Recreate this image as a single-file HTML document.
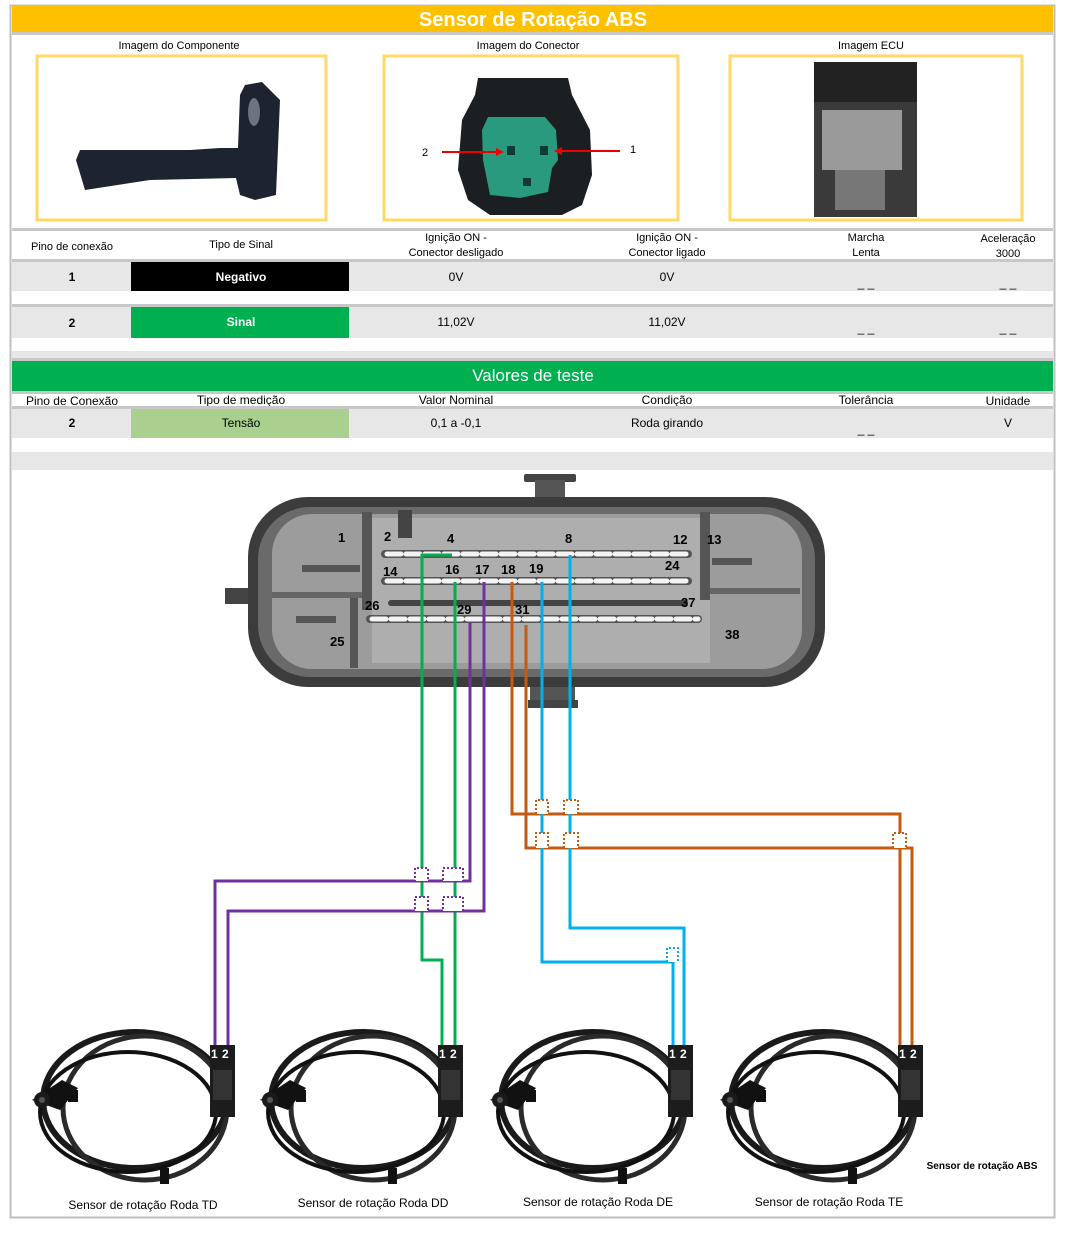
<!DOCTYPE html>
<html><head><meta charset="utf-8"><style>
html,body{margin:0;padding:0;background:#fff;}
svg{display:block;}
text{font-family:"Liberation Sans",sans-serif;}
</style></head><body>
<svg width="1065" height="1237" viewBox="0 0 1065 1237" xmlns="http://www.w3.org/2000/svg">
<defs>
<g id="sensor">
 <ellipse cx="135" cy="1100" rx="92" ry="68" fill="none" stroke="#1a1a1a" stroke-width="6"/>
 <ellipse cx="145" cy="1108" rx="82" ry="72" fill="none" stroke="#2a2a2a" stroke-width="5"/>
 <ellipse cx="128" cy="1112" rx="88" ry="60" fill="none" stroke="#111" stroke-width="4"/>
 <path d="M32 1100 L62 1080 L78 1088 L60 1110 Z" fill="#111"/>
 <circle cx="42" cy="1100" r="8" fill="#1a1a1a"/>
 <circle cx="42" cy="1100" r="3" fill="#555"/>
 <rect x="68" y="1090" width="10" height="12" fill="#111"/>
 <rect x="160" y="1168" width="9" height="16" fill="#111"/>
 <rect x="210" y="1045" width="25" height="72" fill="#1c1c1c"/>
 <rect x="213" y="1070" width="19" height="30" fill="#333"/>
 <text x="211" y="1058" font-size="12" font-weight="bold" fill="#fff">1</text>
 <text x="222" y="1058" font-size="12" font-weight="bold" fill="#fff">2</text>
</g>
</defs>
<rect x="10.5" y="5.5" width="1044" height="1212" fill="none" stroke="#bfbfbf" stroke-width="2"/>
<rect x="12" y="6" width="1041" height="26" fill="#FFC000"/>
<text x="533" y="26" font-size="20" font-weight="bold" fill="#fff" text-anchor="middle">Sensor de Rotação ABS</text>
<rect x="12" y="32" width="1041" height="3" fill="#c8c8c8"/>
<g font-size="11" text-anchor="middle" fill="#000">
<text x="179" y="49">Imagem do Componente</text>
<text x="528" y="49">Imagem do Conector</text>
<text x="871" y="49">Imagem ECU</text>
</g>
<g fill="none" stroke="#FFD966" stroke-width="3">
<rect x="37" y="56" width="289" height="164"/>
<rect x="384" y="56" width="294" height="164"/>
<rect x="730" y="56" width="292" height="164"/>
</g>
<path d="M76 160 L80 150 L190 150 L220 148 L238 148 L240 95 L245 85 L262 82 L280 100 L276 195 L255 200 L240 195 L236 178 L150 180 L85 190 Z" fill="#1d2430"/>
<ellipse cx="254" cy="112" rx="6" ry="14" fill="#6c7480"/>
<path d="M478 78 L568 78 L572 95 L590 130 L592 175 L582 205 L562 215 L490 215 L468 200 L458 170 L462 120 L475 95 Z" fill="#1b1f22"/>
<path d="M488 117 L545 117 L556 130 L558 160 L552 168 L548 192 L520 198 L490 195 L483 160 L482 130 Z" fill="#2a9a7f"/>
<rect x="507" y="146" width="8" height="9" fill="#0e3b33"/><rect x="540" y="146" width="8" height="9" fill="#0e3b33"/><rect x="523" y="178" width="8" height="8" fill="#0e3b33"/>
<line x1="442" y1="152" x2="498" y2="152" stroke="#e00" stroke-width="2"/><path d="M504 152 L496 148 L496 156Z" fill="#e00"/>
<line x1="620" y1="151" x2="560" y2="151" stroke="#e00" stroke-width="2"/><path d="M554 151 L562 147 L562 155Z" fill="#e00"/>
<text x="422" y="156" font-size="11">2</text><text x="630" y="153" font-size="11">1</text>
<rect x="814" y="62" width="103" height="155" fill="#3a3a3a"/>
<rect x="822" y="110" width="80" height="60" fill="#9a9a9a"/>
<rect x="835" y="170" width="50" height="40" fill="#777"/>
<rect x="814" y="62" width="103" height="40" fill="#222"/>
<rect x="12" y="228" width="1041" height="3" fill="#c8c8c8"/>
<g font-size="11" text-anchor="middle" fill="#000">
<text x="72" y="250">Pino de conexão</text>
<text x="241" y="248">Tipo de Sinal</text>
<text x="456" y="241">Ignição ON -</text><text x="456" y="256">Conector desligado</text>
<text x="667" y="241">Ignição ON -</text><text x="667" y="256">Conector ligado</text>
<text x="866" y="241">Marcha</text><text x="866" y="256">Lenta</text>
<text x="1008" y="242">Aceleração</text><text x="1008" y="257">3000</text>
</g>
<rect x="12" y="259" width="1041" height="3" fill="#c8c8c8"/>
<rect x="12" y="262" width="1041" height="29" fill="#e7e7e7"/>
<rect x="131" y="262" width="218" height="29" fill="#000"/>
<rect x="12" y="304" width="1041" height="3" fill="#c8c8c8"/>
<rect x="12" y="307" width="1041" height="31" fill="#e7e7e7"/>
<rect x="131" y="307" width="218" height="31" fill="#00B050"/>
<rect x="12" y="351" width="1041" height="7" fill="#e7e7e7"/>
<g font-size="12" text-anchor="middle" fill="#000">
<text x="72" y="281" font-weight="bold">1</text>
<text x="241" y="281" fill="#fff" font-weight="bold">Negativo</text>
<text x="456" y="281">0V</text><text x="667" y="281">0V</text>
<text x="866" y="287">_ _</text><text x="1008" y="287">_ _</text>
<text x="72" y="327" font-weight="bold">2</text>
<text x="241" y="326" fill="#fff" font-weight="bold">Sinal</text>
<text x="456" y="326">11,02V</text><text x="667" y="326">11,02V</text>
<text x="866" y="332">_ _</text><text x="1008" y="332">_ _</text>
</g>
<rect x="12" y="358" width="1041" height="3" fill="#c8c8c8"/>
<rect x="12" y="361" width="1041" height="30" fill="#00B050"/>
<text x="533" y="381" font-size="17" fill="#fff" text-anchor="middle">Valores de teste</text>
<rect x="12" y="391" width="1041" height="3" fill="#c8c8c8"/>
<g font-size="12" text-anchor="middle" fill="#000">
<text x="72" y="405">Pino de Conexão</text><text x="241" y="404">Tipo de medição</text>
<text x="456" y="404">Valor Nominal</text><text x="667" y="404">Condição</text>
<text x="866" y="404">Tolerância</text><text x="1008" y="405">Unidade</text>
</g>
<rect x="12" y="406" width="1041" height="3" fill="#c8c8c8"/>
<rect x="12" y="409" width="1041" height="29" fill="#e7e7e7"/>
<rect x="131" y="409" width="218" height="29" fill="#A9D08E"/>
<g font-size="12" text-anchor="middle" fill="#000">
<text x="72" y="427" font-weight="bold">2</text><text x="241" y="427">Tensão</text>
<text x="456" y="427">0,1 a  -0,1</text><text x="667" y="427">Roda girando</text>
<text x="866" y="433">_ _</text><text x="1008" y="427">V</text>
</g>
<rect x="12" y="452" width="1041" height="18" fill="#e7e7e7"/>
<!-- ECU connector -->
<rect x="524" y="474" width="52" height="8" rx="2" fill="#444"/>
<rect x="535" y="480" width="30" height="22" fill="#555"/>
<rect x="530" y="684" width="45" height="22" fill="#555"/>
<rect x="528" y="700" width="50" height="8" fill="#444"/>
<rect x="225" y="588" width="28" height="16" fill="#444"/>
<rect x="248" y="497" width="577" height="190" rx="60" fill="#3c3c3c"/>
<rect x="258" y="507" width="557" height="170" rx="52" fill="#6a6a6a"/>
<rect x="272" y="514" width="530" height="155" rx="40" fill="#9c9c9c"/>
<rect x="372" y="518" width="338" height="145" fill="#aeaeae"/>
<rect x="362" y="512" width="10" height="98" fill="#555"/>
<rect x="700" y="512" width="10" height="88" fill="#555"/>
<rect x="272" y="592" width="90" height="6" fill="#666"/>
<rect x="710" y="588" width="90" height="6" fill="#666"/>
<rect x="350" y="598" width="8" height="70" fill="#555"/>
<rect x="388" y="600" width="300" height="6" rx="3" fill="#444"/>
<rect x="398" y="510" width="14" height="28" fill="#444"/>
<rect x="302" y="565" width="58" height="7" fill="#555"/>
<rect x="712" y="558" width="40" height="7" fill="#555"/>
<rect x="296" y="616" width="40" height="7" fill="#555"/>
<g fill="none" stroke-linecap="round">
<line x1="385" y1="554" x2="688" y2="554" stroke="#555" stroke-width="8"/>
<line x1="385" y1="581" x2="688" y2="581" stroke="#555" stroke-width="8"/>
<line x1="370" y1="619" x2="698" y2="619" stroke="#555" stroke-width="8"/>
<line x1="387" y1="554" x2="688" y2="554" stroke="#f4f4f4" stroke-width="5" stroke-dasharray="14,5"/>
<line x1="387" y1="581" x2="688" y2="581" stroke="#f4f4f4" stroke-width="5" stroke-dasharray="14,5"/>
<line x1="372" y1="619" x2="698" y2="619" stroke="#f4f4f4" stroke-width="5" stroke-dasharray="14,5"/>
</g>
<g font-size="13" font-weight="bold" fill="#000">
<text x="338" y="542">1</text><text x="384" y="541">2</text><text x="447" y="543">4</text><text x="565" y="543">8</text>
<text x="673" y="544">12</text><text x="707" y="544">13</text>
<text x="383" y="576">14</text><text x="445" y="574">16</text><text x="475" y="574">17</text><text x="501" y="574">18</text><text x="529" y="573">19</text>
<text x="665" y="570">24</text>
<text x="365" y="610">26</text><text x="457" y="614">29</text><text x="515" y="614">31</text><text x="681" y="607">37</text>
<text x="330" y="646">25</text><text x="725" y="639">38</text>
</g>
<g fill="none" stroke-width="3">
<path d="M452 555 L422 555 L422 960 L442 960 L442 1046" stroke="#00B050"/>
<path d="M455 582 L455 1046" stroke="#00B050"/>
<path d="M484 582 L484 911 L228 911 L228 1046" stroke="#7030A0"/>
<path d="M470 622 L470 881 L215 881 L215 1046" stroke="#7030A0"/>
<path d="M512 582 L512 814 L900 814 L900 1046" stroke="#C55A11"/>
<path d="M526 625 L526 848 L912 848 L912 1046" stroke="#C55A11"/>
<path d="M542 582 L542 962 L673 962 L673 1046" stroke="#00B0F0"/>
<path d="M570 555 L570 928 L684 928 L684 1046" stroke="#00B0F0"/>
</g>
<g fill="#fff" stroke-width="2" stroke-dasharray="2,2">
<path d="M410 881 L415 881 L415 868 L428 868 L428 881 L443 881 L443 868 L463 868 L463 881" stroke="#7030A0"/>
<path d="M405 911 L415 911 L415 897 L428 897 L428 911 L443 911 L443 897 L463 897 L463 911" stroke="#7030A0"/>
<path d="M512 814 L536 814 L536 800 L548 800 L548 814 L564 814 L564 800 L578 800 L578 814" stroke="#C55A11"/>
<path d="M530 848 L536 848 L536 833 L548 833 L548 848 L564 848 L564 833 L578 833 L578 848" stroke="#C55A11"/>
<path d="M893 848 L893 833 L906 833 L906 848" stroke="#C55A11"/>
<path d="M667 962 L667 948 L678 948 L678 962" stroke="#00B0F0"/>
</g>
<use href="#sensor"/>
<use href="#sensor" transform="translate(228,0)"/>
<use href="#sensor" transform="translate(458,0)"/>
<use href="#sensor" transform="translate(688,0)"/>
<g font-size="12" text-anchor="middle" fill="#000">
<text x="143" y="1209">Sensor de rotação Roda TD</text>
<text x="373" y="1207">Sensor de rotação Roda DD</text>
<text x="598" y="1206">Sensor de rotação Roda DE</text>
<text x="829" y="1206">Sensor de rotação Roda TE</text>
</g>
<text x="982" y="1169" font-size="10" font-weight="bold" text-anchor="middle">Sensor de rotação ABS</text>
</svg>
</body></html>
